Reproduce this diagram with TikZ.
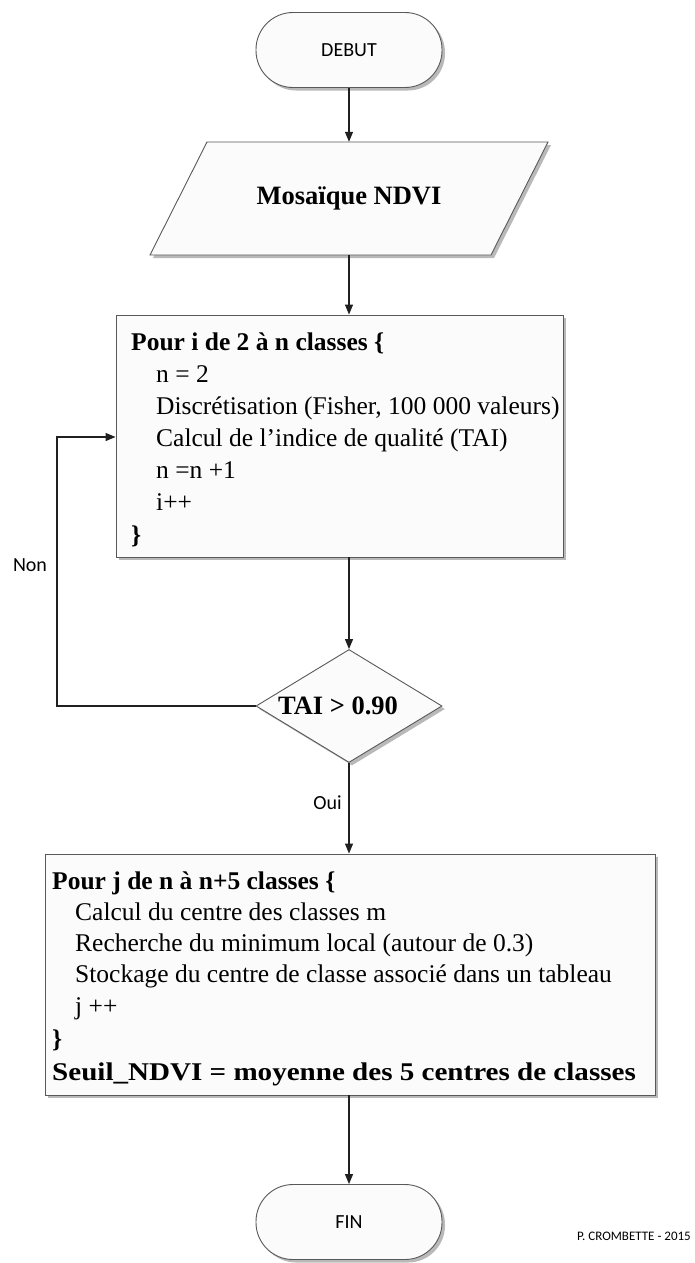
\documentclass[tikz,border=0pt]{standalone}
\usepackage{fontspec}
\usepackage{graphicx}
\setmainfont{Liberation Serif}
\newfontfamily\calib{Carlito}
\usetikzlibrary{shapes.geometric,shadows,arrows.meta}
\newcommand\bodysize{\fontsize{25.5}{30}\selectfont}
\begin{document}
\begin{tikzpicture}[x=1pt,y=-1pt,
  shapebase/.style={draw=gray!70!black, line width=0.9pt, fill=gray!3,
    drop shadow={shadow xshift=3pt, shadow yshift=-3pt, fill=gray!55, opacity=1}},
  term/.style={shapebase, rectangle, rounded corners=37pt, minimum width=186pt,
    minimum height=75pt, inner sep=0pt, font=\calib\fontsize{20}{24}\selectfont},
  iotext/.style={rectangle, minimum width=340pt, minimum height=113pt, inner sep=0pt,
    font=\bfseries\fontsize{26.5}{30}\selectfont},
  procbox/.style={shapebase, rectangle, inner sep=0pt},
  decbox/.style={shapebase, diamond, minimum width=186pt, minimum height=113pt, inner sep=0pt},
  txt/.style={anchor=base west, inner sep=0pt, font=\bodysize},
  lbl/.style={inner sep=0pt, font=\calib\fontsize{20}{24}\selectfont},
  arr/.style={draw=gray!25!black, line width=1.2pt, -{Triangle[length=10pt,width=8pt]}}
]
\fill[white] (0,0) rectangle (694,1263);
\useasboundingbox (0,0) rectangle (694,1263);

% shapes
\node[term] (debut) at (349,50) {DEBUT};
\draw[shapebase] (207,142) -- (548,142) -- (491,255) -- (150,255) -- cycle;
\node[iotext] (para) at (349,198.5) {Mosaïque NDVI};
\node[procbox, minimum width=447pt, minimum height=242pt] (box1) at (339.5,436) {};
\node[decbox] (dec) at (349,706) {};
\node[inner sep=0pt, font=\bfseries\fontsize{26.5}{30}\selectfont] (dtext) at (338,706) {TAI > 0.90};
\node[procbox, minimum width=610pt, minimum height=241pt] (box2) at (350,974.5) {};
\node[term] (fin) at (349,1222) {FIN};

% box 1 text
\node[txt] (a1) at (131,350) {\textbf{Pour i de 2 à n classes \{}};
\node[txt] (a2) at (156,382) {n = 2};
\node[txt] (a3) at (156,414) {Discrétisation (Fisher, 100 000 valeurs)};
\node[txt] (a4) at (156,446) {Calcul de l’indice de qualité (TAI)};
\node[txt] (a5) at (156,478) {n =n +1};
\node[txt] (a6) at (156,510) {i++};
\node[txt] (a7) at (131,543) {\textbf{\}}};

% box 2 text
\node[txt] (b1) at (52,889) {\textbf{Pour j de n à n+5 classes \{}};
\node[txt] (b2) at (75,920) {Calcul du centre des classes m};
\node[txt] (b3) at (75,951) {Recherche du minimum local (autour de 0.3)};
\node[txt] (b4) at (75,982) {Stockage du centre de classe associé dans un tableau};
\node[txt] (b5) at (75,1014) {j ++};
\node[txt] (b6) at (52,1047) {\textbf{\}}};
\node[txt] (b7) at (52,1080) {\scalebox{1.14}[1]{\textbf{Seuil\_NDVI = moyenne des 5 centres de classes}}};

% connectors
\coordinate (lp) at (57,437);
\draw[arr] (debut) -- (para);
\draw[arr] (para) -- (para |- box1.north);
\draw[arr] (box1.south -| dec) -- (dec);
\draw[arr] (dec.west) -- (dec.west -| lp) -- (lp) -- (lp -| box1.west);
\draw[arr] (dec) -- (dec |- box2.north);
\draw[arr] (box2.south -| fin) -- (fin);

% labels
\node[lbl] (non) at (30,565) {Non};
\node[lbl, anchor=east] (oui) at (342,803) {Oui};
\node[inner sep=0pt, anchor=east, font=\calib\fontsize{13}{15}\selectfont] (credit) at (691,1236) {P. CROMBETTE - 2015};
\end{tikzpicture}
\end{document}
